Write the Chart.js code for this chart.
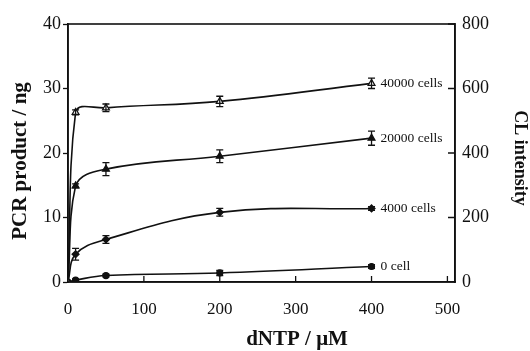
<!DOCTYPE html>
<html><head><meta charset="utf-8">
<script src="https://cdn.jsdelivr.net/npm/chart.js@4/dist/chart.umd.min.js"></script>
<style>html,body{margin:0;padding:0;background:#fff}#wrap{width:530px;height:351px}</style>
</head><body><div id="wrap"><canvas id="c" width="530" height="351"></canvas></div>
<script>
const dntp = [0, 10, 50, 200, 400];
const seriesNames = ['40000 cells', '20000 cells', '4000 cells', '0 cell'];
const cells40000 = [0, 26.3, 27.0, 28.0, 30.8];
const err40000   = [0, 0.4, 0.6, 0.8, 0.8];
const cells20000 = [0, 14.9, 17.5, 19.5, 22.3];
const err20000   = [0, 0.3, 1.0, 1.0, 1.1];
const cells4000  = [0, 4.3, 6.6, 10.8, 11.4];
const err4000    = [0, 0.9, 0.6, 0.6, 0.3];
const cells0     = [0, 0.3, 1.0, 1.4, 2.4];
const err0       = [0, 0.2, 0.2, 0.4, 0.3];
const xTicks  = [0, 100, 200, 300, 400, 500];
const yTicks  = [0, 10, 20, 30, 40];
const y2Ticks = [0, 200, 400, 600, 800];
const xTitle = 'dNTP / μM';
const yTitle = 'PCR product / ng';
const y2Title = 'CL intensity';

const serif = "'Liberation Serif', 'DejaVu Serif', serif";
const mk = (vals) => dntp.map((x, i) => ({x, y: vals[i]}));
const errs = [err40000, err20000, err4000, err0];

const styles = [
  {pointStyle:'triangle', bg:'#fff', r:4},
  {pointStyle:'triangle', bg:'#111', r:4},
  {pointStyle:'rectRot', bg:'#111', r:3.5},
  {pointStyle:'circle', bg:'#111', r:3},
];
const datasets = [cells40000, cells20000, cells4000, cells0].map((v, i) => ({
  label: seriesNames[i], data: mk(v), yAxisID: 'y',
  borderColor: '#111', borderWidth: 1.6, tension: 0.4,
  pointStyle: styles[i].pointStyle, pointRadius: styles[i].r,
  pointBackgroundColor: styles[i].bg, pointBorderColor: '#111', pointBorderWidth: 1.2,
  errors: errs[i]
}));

const deco = {
  id: 'deco',
  afterDatasetsDraw(chart) {
    const {ctx, chartArea: a, scales} = chart;
    const xs = scales.x, ys = scales.y, y2 = scales.y2;
    ctx.save();
    ctx.strokeStyle = '#111'; ctx.lineWidth = 1.6;
    ctx.strokeRect(a.left, a.top, a.right - a.left, a.bottom - a.top);
    ctx.lineWidth = 1.3;
    ctx.beginPath();
    xTicks.slice(1).forEach(t => { const px = xs.getPixelForValue(t); ctx.moveTo(px, a.bottom); ctx.lineTo(px, a.bottom - 6); });
    y2Ticks.slice(1).forEach(t => { const py = y2.getPixelForValue(t); ctx.moveTo(a.right, py); ctx.lineTo(a.right - 7, py); });
    ctx.stroke();
    // error bars and series labels
    chart.data.datasets.forEach((ds) => {
      ds.data.forEach((p, j) => {
        const e = ds.errors[j]; if (!e) return;
        const px = xs.getPixelForValue(p.x);
        const t = ys.getPixelForValue(p.y + e), b = ys.getPixelForValue(p.y - e);
        ctx.beginPath();
        ctx.moveTo(px, t); ctx.lineTo(px, b);
        ctx.moveTo(px - 3.5, t); ctx.lineTo(px + 3.5, t);
        ctx.moveTo(px - 3.5, b); ctx.lineTo(px + 3.5, b);
        ctx.stroke();
      });
      const last = ds.data[ds.data.length - 1];
      ctx.fillStyle = '#111';
      ctx.font = "13.5px " + serif;
      ctx.textBaseline = 'middle'; ctx.textAlign = 'left';
      ctx.fillText(ds.label, xs.getPixelForValue(last.x) + 9, ys.getPixelForValue(last.y));
    });
    // axis titles
    ctx.fillStyle = '#111';
    ctx.textAlign = 'center'; ctx.textBaseline = 'middle';
    ctx.font = "bold 21px " + serif;
    ctx.fillText(xTitle, 297, 340);
    ctx.save(); ctx.translate(21, 161); ctx.rotate(-Math.PI / 2);
    ctx.fillText(yTitle, 0, 0); ctx.restore();
    ctx.font = "bold 18px " + serif;
    ctx.save(); ctx.translate(520, 158); ctx.rotate(Math.PI / 2);
    ctx.fillText(y2Title, 0, 0); ctx.restore();
    ctx.restore();
  }
};

new Chart(document.getElementById('c'), {
  type: 'line',
  data: { datasets },
  plugins: [deco],
  options: {
    responsive: false, animation: false,
    layout: { padding: { top: 24, left: 0, right: 0, bottom: 0 } },
    plugins: { legend: { display: false }, tooltip: { enabled: false } },
    scales: {
      x: {
        type: 'linear', min: 0, max: 510,
        afterBuildTicks: s => { s.ticks = xTicks.map(v => ({value: v})); },
        afterFit: s => { s.height = 69; },
        grid: { drawOnChartArea: false, drawTicks: false },
        border: { color: '#111', width: 1.6 },
        ticks: { color: '#111', padding: 17, font: { family: serif, size: 17 }, maxRotation: 0 }
      },
      y: {
        type: 'linear', position: 'left', min: 0, max: 40,
        afterBuildTicks: s => { s.ticks = yTicks.map(v => ({value: v})); },
        afterFit: s => { s.width = 68; },
        grid: { drawOnChartArea: false, drawTicks: true, tickLength: 5, color: '#111', tickWidth: 1.3 },
        border: { color: '#111', width: 1.6 },
        ticks: { color: '#111', padding: 2, font: { family: serif, size: 18 } }
      },
      y2: {
        type: 'linear', position: 'right', min: 0, max: 800,
        afterBuildTicks: s => { s.ticks = y2Ticks.map(v => ({value: v})); },
        afterFit: s => { s.width = 75; },
        grid: { drawOnChartArea: false, drawTicks: false },
        border: { color: '#111', width: 1.6 },
        ticks: { color: '#111', padding: 7, font: { family: serif, size: 18 } }
      }
    }
  }
});
</script></body></html>
